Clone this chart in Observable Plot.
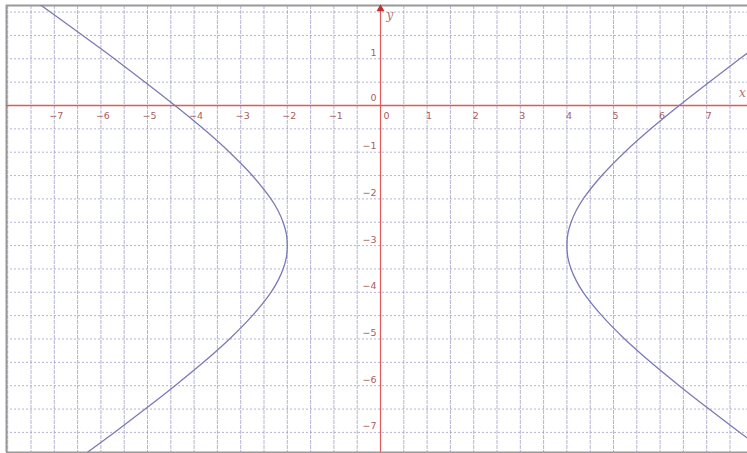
<!DOCTYPE html>
<html>
<head>
<meta charset="utf-8">
<script src="https://cdn.jsdelivr.net/npm/d3@7"></script>
<script src="https://cdn.jsdelivr.net/npm/@observablehq/plot@0.6"></script>
<style>
  body { margin: 0; background: #fff; }
</style>
</head>
<body>
<div id="chart"></div>
<script>
// Tick labels
const xTicks = [-7, -6, -5, -4, -3, -2, -1, 1, 2, 3, 4, 5, 6, 7];
const yTicks = [1, -1, -2, -3, -4, -5, -6, -7];
// Grid lines (every half unit)
const gridX = d3.range(-8, 8, 0.5).filter(v => v !== 0);
const gridY = d3.range(-7.5, 2.5, 0.5).filter(v => v !== 0);

// Hyperbola points (left and right branches)
const branchY = [2.5, 2.2, 1.5, 1, 0.5, 0, -0.5, -1, -1.5, -2, -2.25, -2.5, -2.75, -3, -3.25, -3.5, -3.75, -4, -4.5, -5, -5.5, -6, -6.5, -7, -7.5];
const leftX  = [-7.78, -7.36, -6.39, -5.71, -5.05, -4.41, -3.80, -3.24, -2.75, -2.35, -2.20, -2.09, -2.02, -2.00, -2.02, -2.09, -2.20, -2.35, -2.75, -3.24, -3.80, -4.41, -5.05, -5.71, -6.39];
const rightX = [9.78, 9.36, 8.39, 7.71, 7.05, 6.41, 5.80, 5.24, 4.75, 4.35, 4.20, 4.09, 4.02, 4.00, 4.02, 4.09, 4.20, 4.35, 4.75, 5.24, 5.80, 6.41, 7.05, 7.71, 8.39];

const left = branchY.map((y, i) => ({x: leftX[i], y}));
const right = branchY.map((y, i) => ({x: rightX[i], y}));

const W = 747, H = 453;
const xDomain = [(6 - 380) / 46.6, (747 - 380) / 46.6];
const yDomain = [-(452 - 105) / 46.7, (105 - 5) / 46.7];

const axisColor = "#e05a5a";
const labelColor = "#a86060";
const gridColor = "#a0a0c8";
const curveColor = "#7a7ab8";
const fmt = d => String(d).replace("-", "−");

const chart = Plot.plot({
  width: W,
  height: H,
  marginLeft: 6,
  marginRight: 0,
  marginTop: 5,
  marginBottom: 1,
  x: {domain: xDomain, axis: null},
  y: {domain: yDomain, axis: null},
  style: {background: "#fff", fontFamily: "DejaVu Sans, sans-serif"},
  marks: [
    // grid
    Plot.ruleX(gridX, {stroke: gridColor, strokeOpacity: 0.8, strokeDasharray: "4,1", strokeWidth: 1}),
    Plot.ruleY(gridY, {stroke: gridColor, strokeOpacity: 0.8, strokeDasharray: "2,2", strokeWidth: 1}),
    // border (left, top, bottom)
    Plot.ruleX([xDomain[0]], {stroke: "#999", strokeWidth: 2}),
    Plot.ruleY([yDomain[1]], {stroke: "#999", strokeWidth: 2}),
    Plot.ruleY([yDomain[0]], {stroke: "#999", strokeWidth: 2}),
    // axes
    Plot.ruleY([0], {y: d => d, x1: xDomain[0], x2: xDomain[1], stroke: axisColor, strokeWidth: 1.4}),
    Plot.ruleX([0], {stroke: axisColor, strokeWidth: 1.2}),
    Plot.dot([{x: 0, y: 2.07}], {x: "x", y: "y", symbol: "triangle", r: 3, fill: "#c03030", stroke: "none"}),
    // tick labels
    Plot.text(xTicks, {x: d => d, y: 0, text: fmt, dy: 10, dx: 2, fill: labelColor, fontSize: 9.5}),
    Plot.text([0], {x: d => d, y: 0, text: fmt, dy: 10, dx: 6, fill: labelColor, fontSize: 9.5}),
    Plot.text(yTicks, {x: 0, y: d => d, text: fmt, dx: -4, dy: -6, textAnchor: "end", fill: labelColor, fontSize: 9.5}),
    Plot.text([0], {x: 0, y: d => d, text: fmt, dx: -4, dy: -8, textAnchor: "end", fill: labelColor, fontSize: 9.5}),
    // axis names
    Plot.text([{x: 0.13, y: 1.93, t: "y"}], {x: "x", y: "y", text: "t", textAnchor: "start", fill: "#b07070", fontSize: 12, fontStyle: "italic", fontFamily: "DejaVu Serif, serif"}),
    Plot.text([{x: 7.86, y: 0.26, t: "x"}], {x: "x", y: "y", text: "t", textAnchor: "end", dx: -1, fill: "#b07070", fontSize: 12, fontStyle: "italic", fontFamily: "DejaVu Serif, serif"}),
    // hyperbola
    Plot.line(left, {x: "x", y: "y", curve: "catmull-rom", stroke: curveColor, strokeWidth: 1.3, clip: true}),
    Plot.line(right, {x: "x", y: "y", curve: "catmull-rom", stroke: curveColor, strokeWidth: 1.3, clip: true})
  ]
});

document.getElementById("chart").appendChild(chart);
</script>
</body>
</html>
